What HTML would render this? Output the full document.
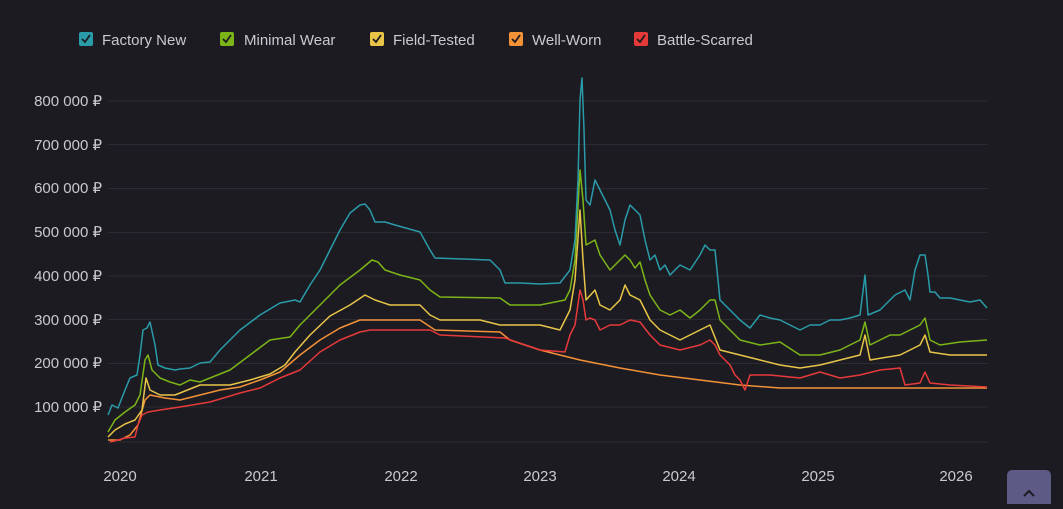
<!DOCTYPE html>
<html><head><meta charset="utf-8"><style>
body{margin:0;background:#1c1b22;width:1063px;height:504px;overflow:hidden;font-family:"Liberation Sans",sans-serif}
</style></head><body>
<svg width="1063" height="504" xmlns="http://www.w3.org/2000/svg" font-family="Liberation Sans, sans-serif">
<rect width="1063" height="504" fill="#1c1b22"/>
<g stroke="#2c2b33" stroke-width="1">
<line x1="108" x2="987" y1="101" y2="101"/><line x1="108" x2="987" y1="144.5" y2="144.5"/>
<line x1="108" x2="987" y1="188.5" y2="188.5"/><line x1="108" x2="987" y1="232.5" y2="232.5"/>
<line x1="108" x2="987" y1="276" y2="276"/><line x1="108" x2="987" y1="319.5" y2="319.5"/>
<line x1="108" x2="987" y1="363.5" y2="363.5"/><line x1="108" x2="987" y1="407" y2="407"/>
<line x1="108" x2="987" y1="442" y2="442"/>
</g>
<g fill="#c9c9cf" font-size="15" text-anchor="end">
<text x="102" y="106">800 000 ₽</text><text x="102" y="150">700 000 ₽</text>
<text x="102" y="193">600 000 ₽</text><text x="102" y="237">500 000 ₽</text>
<text x="102" y="281">400 000 ₽</text><text x="102" y="325">300 000 ₽</text>
<text x="102" y="368">200 000 ₽</text><text x="102" y="412">100 000 ₽</text>
</g>
<g fill="#c9c9cf" font-size="15" text-anchor="middle">
<text x="120" y="481">2020</text><text x="261" y="481">2021</text><text x="401" y="481">2022</text>
<text x="540" y="481">2023</text><text x="679" y="481">2024</text><text x="818" y="481">2025</text><text x="956" y="481">2026</text>
</g>
<g fill="none" stroke-width="1.5" stroke-linejoin="round">
<polyline stroke="#f39237" points="108,440 120,440 130,435 138,425 145,400 150,395 165,398 180,400 200,395 220,390 240,387 260,380 280,372 300,355 320,340 340,328 360,320 380,320 420,320 435,330 500,332 510,340 540,350 580,360 620,368 660,375 700,380 740,385 780,388 820,388 987,388"/>
<polyline stroke="#e63a3a" points="110,442 118,440 125,438 135,437 138,425 142,415 148,412 160,410 180,407 210,402 240,393 260,388 280,378 300,370 320,352 340,340 360,332 370,330 400,330 430,330 440,335 505,338 540,350 565,352 570,335 575,325 580,290 583,300 586,320 590,318 595,320 600,330 610,325 620,325 630,320 640,322 650,335 660,345 680,350 700,345 710,340 715,345 720,355 730,365 735,375 740,380 745,390 750,375 770,375 800,378 820,372 840,378 860,375 880,370 900,368 905,385 920,383 925,372 930,383 950,385 987,387"/>
<polyline stroke="#e8c547" points="108,437 115,430 125,424 135,420 142,410 146,378 150,390 160,395 175,395 200,385 230,385 250,380 270,374 285,365 295,352 310,335 330,316 350,305 365,295 375,300 390,305 420,305 430,315 440,320 480,320 500,325 540,325 560,330 565,320 570,310 575,280 580,210 583,260 586,300 595,290 600,305 610,310 620,300 625,285 630,295 640,300 650,320 660,330 680,340 700,330 710,325 720,350 740,355 760,360 780,365 800,368 820,365 840,360 860,355 865,335 870,360 900,355 920,345 925,335 930,352 950,355 987,355"/>
<polyline stroke="#7cb518" points="108,432 115,420 125,412 135,405 140,395 145,360 148,355 152,370 160,378 170,382 180,385 190,380 200,382 210,378 230,370 250,355 270,340 290,337 300,325 320,305 340,285 360,270 372,260 378,262 385,270 400,275 420,280 430,290 440,297 500,298 510,305 540,305 565,300 570,290 575,260 580,170 583,200 586,245 595,240 600,255 610,270 620,260 625,255 630,260 635,268 640,262 645,280 650,295 660,310 670,315 680,310 690,318 700,310 710,300 715,300 720,320 730,330 740,340 760,345 780,342 800,355 820,355 840,350 860,340 865,322 870,345 880,340 890,335 900,335 910,330 920,325 925,318 930,340 940,345 960,342 987,340"/>
<polyline stroke="#2a9ba8" points="108,415 112,405 118,408 125,390 130,378 137,375 140,355 143,330 147,328 150,322 155,345 158,365 165,368 175,370 180,369 190,368 200,363 210,362 220,350 240,330 260,315 280,303 295,300 300,302 310,285 320,270 330,250 340,230 350,213 360,205 365,204 370,210 375,222 385,222 395,225 420,232 430,250 435,258 490,260 500,270 505,283 520,283 540,284 560,283 570,270 575,240 578,180 580,100 582,78 584,130 586,200 590,205 595,180 600,190 605,200 610,210 615,230 620,245 625,220 630,205 635,210 640,215 645,240 650,260 655,255 660,270 665,265 670,275 680,265 690,270 700,255 705,245 710,250 715,250 720,300 725,305 730,310 735,315 740,320 750,328 760,315 770,318 780,320 790,325 800,330 810,325 820,325 830,320 840,320 850,318 860,315 865,275 868,315 880,310 890,300 895,295 905,290 910,300 915,270 920,255 925,255 928,275 930,292 935,292 940,298 950,298 960,300 970,302 980,300 987,308"/>
</g>
<g font-size="15" fill="#c9c9cf">
<rect x="79" y="32" width="14" height="14" rx="2" fill="#2a9ba8"/><text x="102" y="45">Factory New</text>
<rect x="220" y="32" width="14" height="14" rx="2" fill="#7cb518"/><text x="244" y="45">Minimal Wear</text>
<rect x="370" y="32" width="14" height="14" rx="2" fill="#e8c547"/><text x="393" y="45">Field-Tested</text>
<rect x="509" y="32" width="14" height="14" rx="2" fill="#f39237"/><text x="532" y="45">Well-Worn</text>
<rect x="634" y="32" width="14" height="14" rx="2" fill="#e63a3a"/><text x="657" y="45">Battle-Scarred</text>
</g>
<g fill="none" stroke="#1c1b22" stroke-width="1.8">
<polyline points="82,39 85,42 90,35"/><polyline points="223,39 226,42 231,35"/><polyline points="373,39 376,42 381,35"/><polyline points="512,39 515,42 520,35"/><polyline points="637,39 640,42 645,35"/>
</g>
<rect x="1007" y="470" width="44" height="44" rx="5" fill="#5d5a86"/>
<polyline points="1024,496 1029,491 1034,496" fill="none" stroke="#1c1b22" stroke-width="2"/>
</svg>
</body></html>
